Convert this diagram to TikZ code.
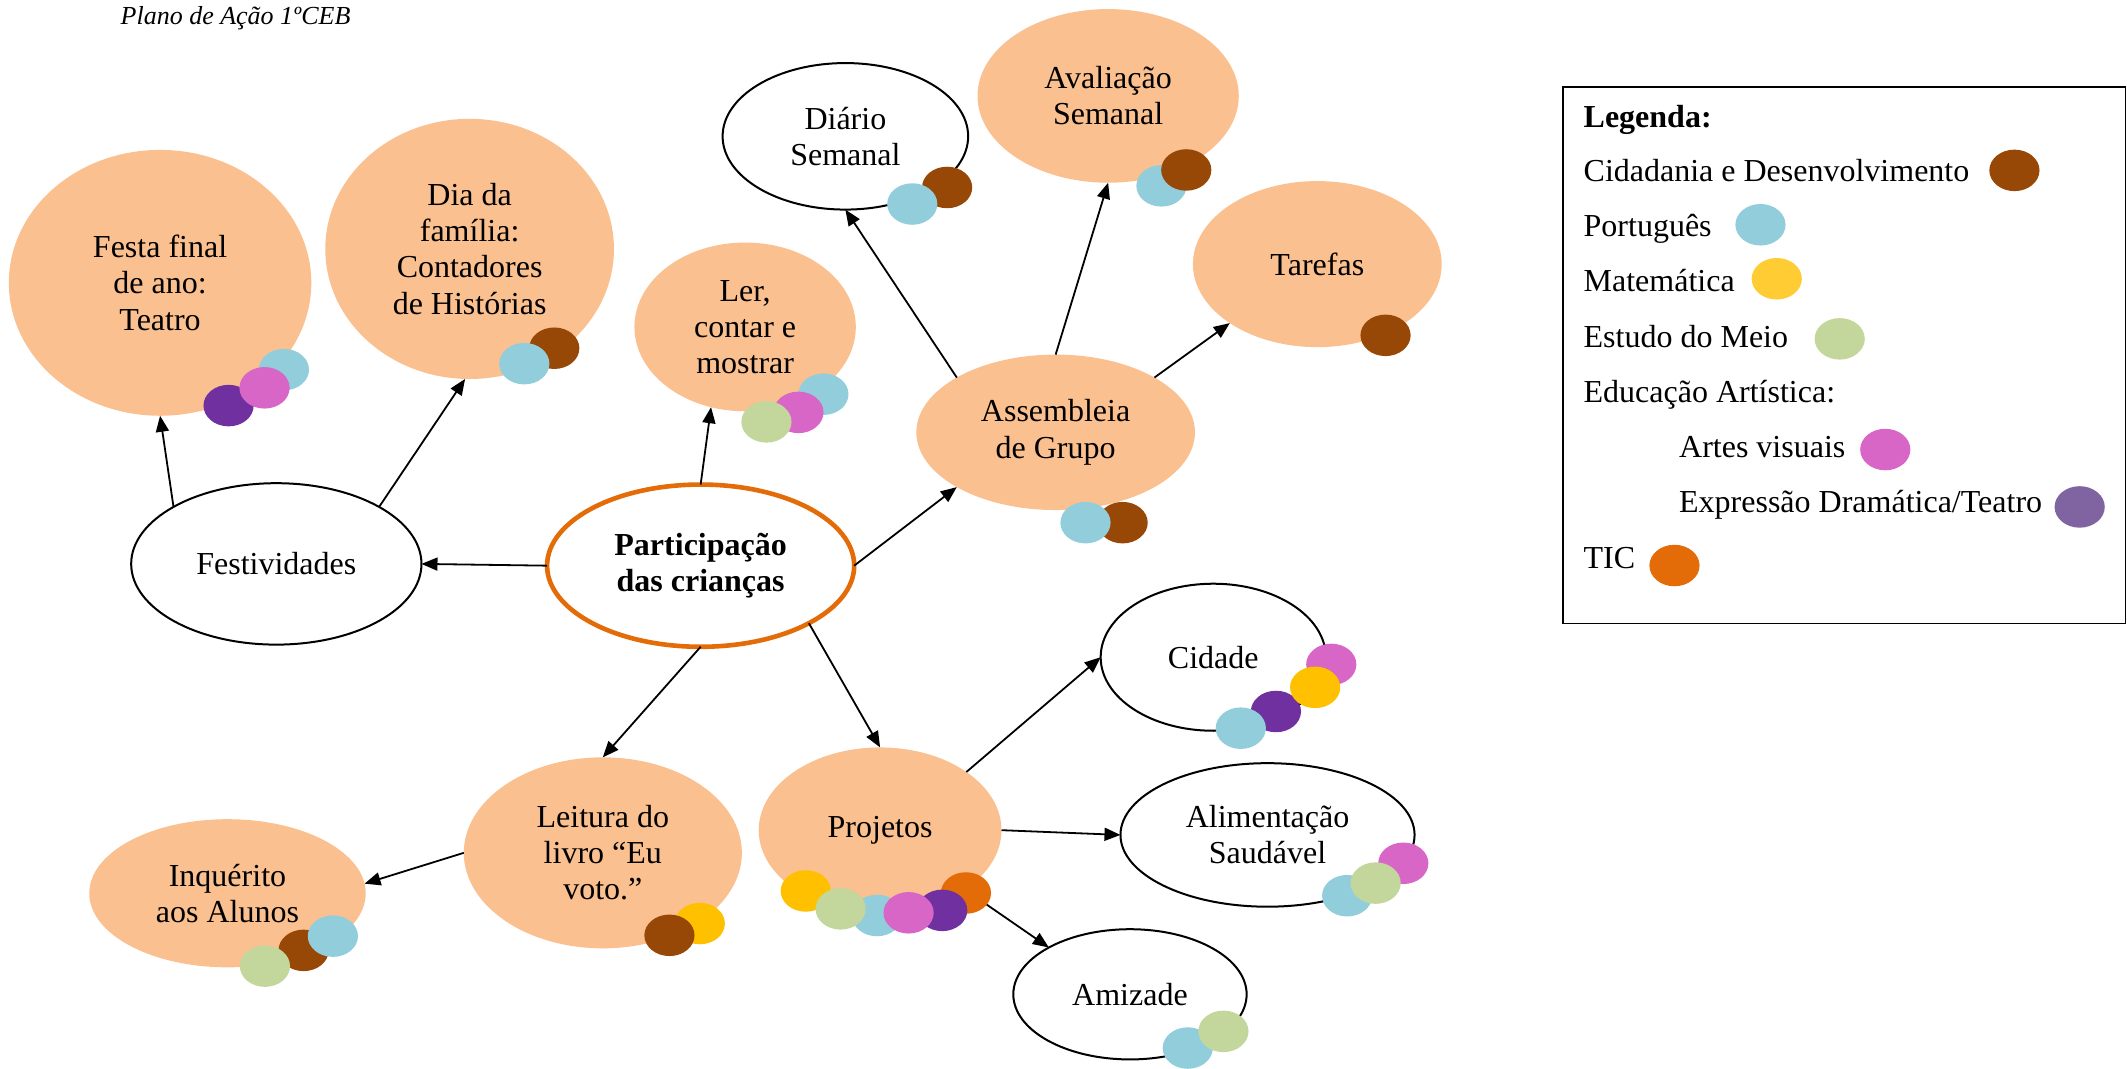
\documentclass[tikz,border=0pt]{standalone}
\usepackage{fontspec}
\setmainfont{Liberation Serif}
\usetikzlibrary{shapes.geometric,arrows.meta}

\definecolor{peach}{HTML}{FAC08F}
\definecolor{huborange}{HTML}{E36C09}
\definecolor{cdbrown}{HTML}{984806}
\definecolor{ptblue}{HTML}{92CDDC}
\definecolor{mtyellow}{HTML}{FFC000}
\definecolor{mtyellowkey}{HTML}{FFCD33}
\definecolor{emgreen}{HTML}{C3D69B}
\definecolor{avpink}{HTML}{D866C6}
\definecolor{edpurple}{HTML}{7030A0}
\definecolor{edpurplekey}{HTML}{8064A2}
\definecolor{ticorange}{HTML}{E36C09}

\newcommand\nodefont{\fontsize{32}{36.1}\selectfont}
% small coloured oval marking a subject area
\newcommand\subj[3]{\fill[subjectdot=#3] (#1,#2) ellipse [x radius=18.5, y radius=15.3];}

\begin{document}
\begin{tikzpicture}[x=1.3565pt, y=-1.3565pt,
  shapebase/.style 2 args={ellipse, inner sep=0pt, outer sep=0pt, align=center,
    font=\nodefont, minimum width=2.713pt*#1, minimum height=2.713pt*#2},
  bubble/.style 2 args={shapebase={#1}{#2}, fill=peach},
  ring/.style 2 args={shapebase={#1}{#2}, draw=black, line width=2pt},
  hub/.style 2 args={shapebase={#1}{#2}, draw=huborange, line width=4.6pt,
    font=\nodefont\bfseries},
  link/.style={-{Triangle[length=16pt,width=13pt]}, line width=1.8pt},
  subjectdot/.style={fill=#1},
  keytext/.style={anchor=west, inner sep=0pt, font=\nodefont,
    text height=24pt, text depth=6pt}]

\useasboundingbox (0,0) rectangle (1568,788);

% heading
\node[anchor=base west, inner sep=0pt, font=\fontsize{26}{30}\selectfont\itshape]
  (title) at (88.8,17.7) {Plano de Ação 1ºCEB};

% concept map
\node[bubble={111.5}{98}] (festa) at (118,208.5) {Festa final\\de ano:\\Teatro};
\node[bubble={106.4}{95.9}] (familia) at (346.2,183.5) {Dia da\\família:\\Contadores\\de Histórias};
\node[bubble={81.6}{62.2}] (ler) at (549.3,241) {Ler,\\contar e\\mostrar};
\node[ring={90.5}{54}] (diario) at (623.2,100.5) {Diário\\Semanal};
\node[bubble={96.3}{64}] (avaliacao) at (816.9,70.7) {Avaliação\\Semanal};
\node[bubble={91.7}{61.2}] (tarefas) at (971.1,194.7) {Tarefas};
\node[bubble={102.7}{57.3}] (assembleia) at (778.2,318.7) {Assembleia\\de Grupo};
\node[hub={113.2}{59.8}] (part) at (516.5,417) {Participação\\das crianças};
\node[ring={107}{59.5}] (festividades) at (203.7,415.7) {Festividades};
\node[bubble={102.5}{70.4}] (leitura) at (444.4,628.7) {Leitura do\\livro “Eu\\voto.”};
\node[bubble={101.9}{54.6}] (inquerito) at (167.7,658.5) {Inquérito\\aos Alunos};
\node[bubble={89.5}{61}] (projetos) at (648.8,612) {Projetos};
\node[ring={83}{54.2}] (cidade) at (894.4,484.5) {Cidade};
\node[ring={108.4}{52.9}] (alimentacao) at (934.4,615.5) {Alimentação\\Saudável};
\node[ring={86}{48}] (amizade) at (833,733) {Amizade};

% connectors
\draw[link] (part.180) -- (festividades.0);
\draw[link] (part.90) -- (ler.247);
\draw[link] (part.0) -- (assembleia.209);
\draw[link] (part.270) -- (leitura.90);
\draw[link] (part.332) -- (projetos.90);
\draw[link] (festividades.151) -- (festa.270);
\draw[link] (festividades.29) -- (familia.268);
\draw[link] (assembleia.151) -- (diario.270);
\draw[link] (assembleia.90) -- (avaliacao.270);
\draw[link] (assembleia.29) -- (tarefas.214);
\draw[link] (leitura.180) -- (inquerito.4.5);
\draw[link] (projetos.34.5) -- (cidade.180);
\draw[link] (projetos.0) -- (alimentacao.180);
\draw[link] (projetos.325.6) -- (amizade.150);

% subject markers
\subj{209.3}{272.5}{ptblue}\subj{168.5}{299}{edpurple}\subj{195}{285.9}{avpink}
\subj{408.6}{256.7}{cdbrown}\subj{386.5}{268.1}{ptblue}
\subj{607}{290.6}{ptblue}\subj{588.6}{304}{avpink}\subj{565}{311}{emgreen}
\subj{698.2}{138.2}{cdbrown}\subj{672.5}{150.4}{ptblue}
\subj{856.2}{137}{ptblue}\subj{874.5}{125.3}{cdbrown}
\subj{1021.4}{247.2}{cdbrown}
\subj{827.6}{385.3}{cdbrown}\subj{800.2}{385.3}{ptblue}
\subj{515.9}{680.8}{mtyellow}\subj{493.5}{689.5}{cdbrown}
\subj{223.8}{700.6}{cdbrown}\subj{195.3}{712.2}{emgreen}\subj{245.4}{690.1}{ptblue}
\subj{712.1}{658.3}{ticorange}\subj{694.6}{671.1}{edpurple}\subj{594}{656.8}{mtyellow}
\subj{646.5}{674.9}{ptblue}\subj{619.7}{670}{emgreen}\subj{669.8}{672.9}{avpink}
\subj{981.4}{489.8}{avpink}\subj{940.6}{524.5}{edpurple}\subj{969.5}{506.7}{mtyellow}\subj{914.7}{536.8}{ptblue}
\subj{1034.5}{636.4}{avpink}\subj{993.1}{660.3}{ptblue}\subj{1014.1}{651}{emgreen}
\subj{875.6}{772.6}{ptblue}\subj{901.9}{760.3}{emgreen}

% legend
\draw[line width=1.6pt] (1152,64) rectangle (1567,459.5);
\node[keytext, font=\nodefont\bfseries] (kTitle) at (1167.3,87.3) {Legenda:};
\node[keytext] (kCD) at (1167.3,126.9) {Cidadania e Desenvolvimento};
\node[keytext] (kPT) at (1167.3,167.9) {Português};
\node[keytext] (kMT) at (1167.3,208) {Matemática};
\node[keytext] (kEM) at (1167.3,249.5) {Estudo do Meio};
\node[keytext] (kEA) at (1167.3,289.9) {Educação Artística:};
\node[keytext] (kAV) at (1237.7,330.9) {Artes visuais};
\node[keytext] (kED) at (1237.7,371.3) {Expressão Dramática/Teatro};
\node[keytext] (kTIC) at (1167.3,412.8) {TIC};
\subj{1485}{125.6}{cdbrown}
\subj{1297.8}{165.7}{ptblue}
\subj{1309.8}{205.5}{mtyellowkey}
\subj{1356.2}{249.8}{emgreen}
\subj{1389.8}{331.4}{avpink}
\subj{1533.1}{373.7}{edpurplekey}
\subj{1234.4}{416.9}{ticorange}
\end{tikzpicture}
\end{document}
